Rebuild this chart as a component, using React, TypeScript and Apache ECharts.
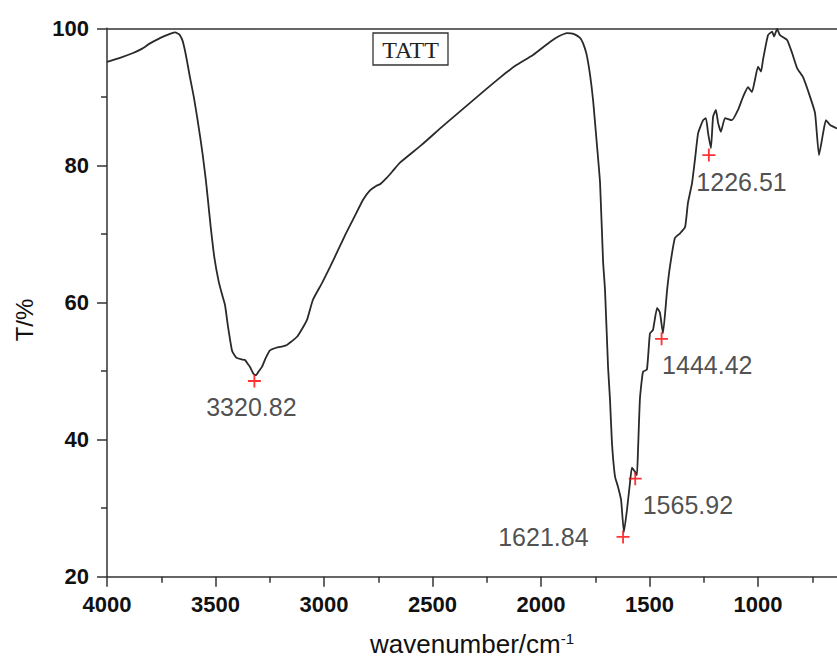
import React, { useEffect, useRef } from "react";
import * as echarts from "echarts";

const wavenumbers = [
  4000, 3940, 3880, 3840, 3802, 3760, 3724, 3700, 3687, 3672, 3664, 3652, 3641, 3630, 3618, 3600,
  3585, 3570, 3558, 3545, 3535, 3522, 3505, 3485, 3470, 3456, 3442, 3424, 3410, 3401, 3380, 3364,
  3350, 3341, 3325, 3313, 3300, 3286, 3270, 3249, 3220, 3190, 3171, 3150, 3124, 3100, 3078, 3051,
  3010, 2972, 2930, 2900, 2860, 2820, 2790, 2760, 2740, 2710, 2680, 2650, 2550, 2450, 2350, 2250,
  2189, 2120, 2037, 1959, 1920, 1880, 1850, 1820, 1806, 1790, 1774, 1760, 1745, 1728, 1714, 1705,
  1691, 1682, 1673, 1659, 1645, 1631, 1618, 1604, 1590, 1581, 1567, 1558, 1553, 1544, 1530, 1512,
  1498, 1484, 1465, 1452, 1438, 1419, 1406, 1383, 1359, 1336, 1323, 1304, 1290, 1276, 1253, 1240,
  1230, 1217, 1207, 1194, 1184, 1171, 1152, 1120, 1092, 1069, 1046, 1028, 1014, 1000, 986, 977,
  954, 935, 926, 912, 899, 866, 843, 820, 793, 760, 737, 719, 700, 687, 668, 636,
];
const transmittance = [
  95.1, 95.7, 96.4, 97.0, 97.8, 98.5, 99.0, 99.3, 99.4, 99.2, 99.0, 98.2, 96.8, 95.0, 92.9, 90.0,
  87.1, 84.0, 81.3, 78.0, 75.0, 71.0, 66.5, 63.0, 61.2, 59.6, 56.4, 53.0, 52.2, 51.9, 51.7, 51.6,
  51.0, 50.6, 49.6, 49.4, 50.0, 50.6, 51.8, 53.0, 53.4, 53.6, 53.8, 54.3, 55.0, 56.2, 57.5, 60.4,
  62.8, 65.2, 68.0, 70.0, 72.5, 75.0, 76.3, 77.0, 77.3, 78.2, 79.3, 80.4, 83.0, 85.8, 88.5, 91.2,
  92.8, 94.5, 96.1, 98.0, 98.8, 99.3, 99.2, 98.6, 97.8, 96.2, 93.2, 89.5, 84.0, 77.5, 66.0, 61.8,
  50.6, 45.8, 39.5, 34.6, 33.1, 31.2, 26.5, 29.7, 33.7, 35.9, 35.3, 34.8, 38.4, 46.0, 49.9, 50.2,
  55.5, 56.0, 59.2, 58.5, 55.5, 61.8, 65.2, 69.4, 70.1, 71.0, 74.5, 77.4, 81.0, 84.7, 86.6, 86.9,
  84.7, 82.5, 87.1, 88.1, 86.2, 84.9, 86.9, 86.6, 88.1, 90.0, 91.4, 90.7, 92.5, 94.4, 93.7, 95.4,
  99.0, 99.5, 98.8, 99.9, 99.0, 98.3, 96.4, 94.2, 92.9, 90.0, 87.6, 81.5, 84.7, 86.6, 85.9, 85.4,
];

const peakWavenumbers = [3320.82, 1621.84, 1565.92, 1444.42, 1226.51];
const peakT = [48.55, 25.8, 34.3, 54.7, 81.5];
const peakLabels = ["3320.82", "1621.84", "1565.92", "1444.42", "1226.51"];

const xMajorTicks = [4000, 3500, 3000, 2500, 2000, 1500, 1000];
const xMinorTicks = [3750, 3250, 2750, 2250, 1750, 1250, 750];

const legendText = "TATT";
const xAxisTitle = "wavenumber/cm";
const xAxisTitleSup = "-1";
const yAxisTitle = "T/%";

const X_MIN = 636;
const X_MAX = 4000;

const peakLabelStyles: any[] = [
  { position: "bottom", distance: 7, offset: [-3, 0] },
  { position: "left", distance: 28, offset: [0, 0] },
  { position: "right", distance: 0, offset: [1, 26] },
  { position: "right", distance: 0, offset: [-6, 26] },
  { position: "right", distance: 0, offset: [-19, 27] },
];

export default function App() {
  const ref = useRef<HTMLDivElement>(null);

  useEffect(() => {
    if (!ref.current) return;
    const chart = echarts.init(ref.current, null, { renderer: "svg" });
    const axisColor = "#333";
    const labelFont = {
      fontFamily: "Liberation Sans, Arial, sans-serif",
      fontWeight: "bold" as const,
      fontSize: 22,
      color: "#111",
    };

    const option: any = {
      animation: false,
      backgroundColor: "#fff",
      grid: { left: 107, top: 28.3, right: 0, bottom: 87.3, containLabel: false },
      xAxis: [
        {
          type: "value",
          min: X_MIN,
          max: X_MAX,
          inverse: true,
          position: "bottom",
          axisLine: { show: true, onZero: false, lineStyle: { color: axisColor, width: 1.5 } },
          axisTick: {
            show: true,
            inside: false,
            length: 10,
            customValues: xMajorTicks,
            lineStyle: { color: axisColor, width: 1.5 },
          },
          axisLabel: {
            show: true,
            margin: 17,
            customValues: xMajorTicks,
            formatter: (v: number) => String(v),
            ...labelFont,
          },
          splitLine: { show: false },
          name: `${xAxisTitle}{sup|${xAxisTitleSup}}`,
          nameLocation: "middle",
          nameGap: 54,
          nameTextStyle: {
            fontFamily: "Liberation Sans, Arial, sans-serif",
            fontSize: 26,
            color: "#111",
            rich: {
              sup: {
                fontFamily: "Liberation Sans, Arial, sans-serif",
                fontSize: 15,
                color: "#111",
                verticalAlign: "top",
                padding: [0, 0, 12, 0],
              },
            },
          },
        },
        {
          type: "value",
          min: X_MIN,
          max: X_MAX,
          inverse: true,
          position: "bottom",
          axisLine: { show: false, onZero: false },
          axisTick: {
            show: true,
            inside: false,
            length: 6,
            customValues: xMinorTicks,
            lineStyle: { color: axisColor, width: 1.5 },
          },
          axisLabel: { show: false },
          splitLine: { show: false },
        },
        {
          type: "value",
          min: X_MIN,
          max: X_MAX,
          inverse: true,
          position: "top",
          axisLine: { show: true, onZero: false, lineStyle: { color: axisColor, width: 1.5 } },
          axisTick: { show: false },
          axisLabel: { show: false },
          splitLine: { show: false },
        },
      ],
      yAxis: {
        type: "value",
        min: 20,
        max: 100,
        interval: 20,
        position: "left",
        axisLine: { show: true, onZero: false, lineStyle: { color: axisColor, width: 1.5 } },
        axisTick: { show: true, inside: false, length: 10, lineStyle: { color: axisColor, width: 1.5 } },
        minorTick: { show: true, splitNumber: 2, length: 6, lineStyle: { color: axisColor, width: 1.5 } },
        axisLabel: { show: true, margin: 18, ...labelFont },
        splitLine: { show: false },
        minorSplitLine: { show: false },
      },
      graphic: [
        {
          type: "text",
          x: 24,
          y: 320,
          rotation: Math.PI / 2,
          style: {
            text: yAxisTitle,
            fontFamily: "Liberation Sans, Arial, sans-serif",
            fontSize: 24,
            fill: "#111",
            align: "center",
            verticalAlign: "middle",
          },
        },
        {
          type: "rect",
          shape: { x: 373, y: 33, width: 75, height: 32 },
          style: { fill: "#fff", stroke: "#333", lineWidth: 1.3 },
          z: 10,
        },
        {
          type: "text",
          x: 410.5,
          y: 50,
          z: 11,
          style: {
            text: legendText,
            fontFamily: "Liberation Serif, Times New Roman, serif",
            fontSize: 24,
            fill: "#222",
            align: "center",
            verticalAlign: "middle",
          },
        },
      ],
      series: [
        {
          type: "line",
          xAxisIndex: 0,
          data: wavenumbers.map((w, i) => [w, transmittance[i]]),
          showSymbol: false,
          symbol: "none",
          smooth: 0.15,
          lineStyle: { color: "#2a2a2a", width: 1.8 },
          z: 2,
        },
        {
          type: "scatter",
          xAxisIndex: 0,
          symbol: "path://M4.3,0H5.7V4.3H10V5.7H5.7V10H4.3V5.7H0V4.3H4.3Z",
          symbolSize: 13,
          itemStyle: { color: "#ff0000" },
          z: 3,
          data: peakWavenumbers.map((w, i) => ({
            value: [w, peakT[i]],
            name: peakLabels[i],
            label: {
              show: true,
              formatter: peakLabels[i],
              fontFamily: "Liberation Sans, Arial, sans-serif",
              fontSize: 25,
              color: "#222",
              ...peakLabelStyles[i],
            },
          })),
        },
      ],
    };
    chart.setOption(option);
    return () => chart.dispose();
  }, []);

  return (
    <div
      ref={ref}
      style={{ position: "fixed", left: 0, top: 0, width: 837, height: 664 }}
    />
  );
}
